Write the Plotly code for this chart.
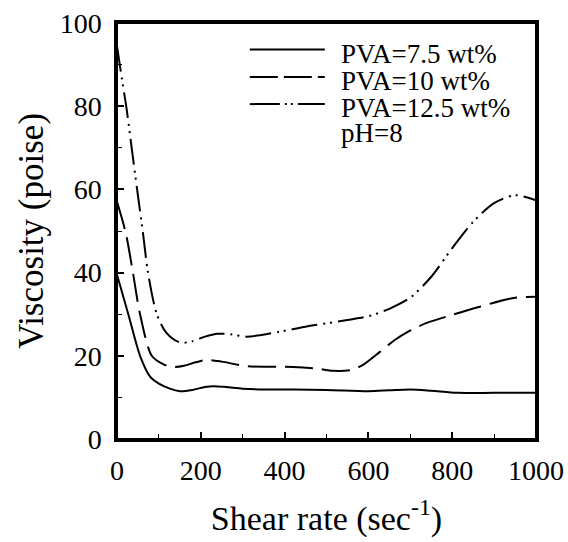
import plotly.graph_objects as go

# ---- data ----
x_75 = [0, 27, 55, 79, 100, 126, 150, 180, 210, 230, 260, 300, 350, 420, 500, 600, 650, 700, 750, 813, 900, 1000]
y_75 = [39.5, 30, 20, 15, 13.3, 12.1, 11.5, 11.8, 12.5, 12.7, 12.5, 12.1, 11.9, 11.9, 11.8, 11.5, 11.7, 11.9, 11.6, 11.1, 11.1, 11.1]

x_10 = [0, 21, 38, 55, 83, 110, 134, 160, 190, 214, 250, 310, 420, 480, 515, 560, 587, 628, 663, 695, 739, 799, 866, 946, 1000]
y_10 = [57, 49.5, 40, 30, 20, 18.0, 17.3, 17.6, 18.5, 19, 18.6, 17.5, 17.3, 16.9, 16.4, 16.6, 17.8, 21, 23.8, 25.8, 27.9, 29.8, 31.8, 33.9, 34.2]

x_125 = [0, 11, 22, 35, 48, 62, 74, 95, 118, 150, 180, 210, 240, 270, 310, 389, 450, 500, 550, 600, 650, 700, 750, 800, 850, 900, 950, 1000]
y_125 = [94.5, 87, 80, 70, 60, 49.5, 40, 30, 25.5, 23.2, 23.5, 24.6, 25.3, 25.2, 24.6, 25.8, 27, 27.8, 28.6, 29.5, 31.3, 34, 39, 45.9, 52.2, 56.7, 58.6, 57.4]

names = ["PVA=7.5 wt%", "PVA=10 wt%", "PVA=12.5 wt%"]
note = "pH=8"
x_ticks = [0, 200, 400, 600, 800, 1000]
y_ticks = [0, 20, 40, 60, 80, 100]

dashes = ["solid", "28px,9px", "26px,6px,2px,5px,2px,6px"]
legend_dashes = ["solid", "28px,6px", "30px,5px,2px,4px,2px,5px"]

FONT = "Liberation Serif"

fig = go.Figure()
for xs, ys, nm, d in zip([x_75, x_10, x_125], [y_75, y_10, y_125], names, dashes):
    fig.add_trace(go.Scatter(
        x=xs, y=ys, mode="lines", name=nm,
        line=dict(color="black", width=2, dash=d, shape="spline", smoothing=0.8),
        showlegend=False,
    ))

# manual legend (long line samples as in the reference)
rows_y = [0.936, 0.870, 0.805]
for ry, nm, d in zip(rows_y, names, legend_dashes):
    fig.add_shape(type="line", xref="paper", yref="paper",
                  x0=0.317, x1=0.496, y0=ry, y1=ry,
                  line=dict(color="black", width=2, dash=d))
    fig.add_annotation(xref="paper", yref="paper", x=0.531, y=ry,
                       yshift=-4, text=nm, showarrow=False,
                       xanchor="left", yanchor="middle",
                       font=dict(family=FONT, size=27, color="black"))
fig.add_annotation(xref="paper", yref="paper", x=0.531, y=0.745,
                   yshift=-4, text=note, showarrow=False,
                   xanchor="left", yanchor="middle",
                   font=dict(family=FONT, size=27, color="black"))

# plot frame
fig.add_shape(type="rect", xref="paper", yref="paper", x0=0, x1=1, y0=0, y1=1,
              line=dict(color="black", width=2), layer="above")

fig.update_xaxes(
    range=[0, 1000], tickmode="array", tickvals=x_ticks,
    ticktext=[str(v) for v in x_ticks], automargin=False,
    ticklabeloverflow="allow",
    showgrid=False, zeroline=False, showline=True, linecolor="black",
    linewidth=2.5, mirror=True, ticks="inside", ticklen=7, tickwidth=1.5,
    tickcolor="black", tickfont=dict(family=FONT, size=28, color="black"),
    minor=dict(ticks="inside", ticklen=5, dtick=100, tickcolor="black", tickwidth=1),
    title=dict(text="Shear rate (sec<sup>-1</sup>)", font=dict(family=FONT, size=34, color="black"), standoff=21),
    ticklabelstandoff=5,
)
fig.update_yaxes(
    range=[0, 100], tickmode="array", tickvals=y_ticks,
    ticktext=[str(v) for v in y_ticks], automargin=False,
    ticklabeloverflow="allow",
    showgrid=False, zeroline=False, showline=True, linecolor="black",
    linewidth=2.5, mirror=True, ticks="inside", ticklen=7, tickwidth=1.5,
    tickcolor="black", tickfont=dict(family=FONT, size=28, color="black"),
    minor=dict(ticks="inside", ticklen=5, dtick=10, tickcolor="black", tickwidth=1),
    title=dict(text="Viscosity (poise)", font=dict(family=FONT, size=35, color="black"), standoff=6),
    ticklabelstandoff=7,
)

fig.update_layout(
    width=568, height=542,
    margin=dict(l=117, r=32, t=23, b=103),
    paper_bgcolor="white", plot_bgcolor="white",
    font=dict(family=FONT, color="black"),
)

# remove the default page margin (and the scrollbar it would cause)
fig.write_html(
    "out.html",
    config={"displayModeBar": False},
    post_script="document.body.style.margin='0';document.body.style.overflow='hidden';",
)
